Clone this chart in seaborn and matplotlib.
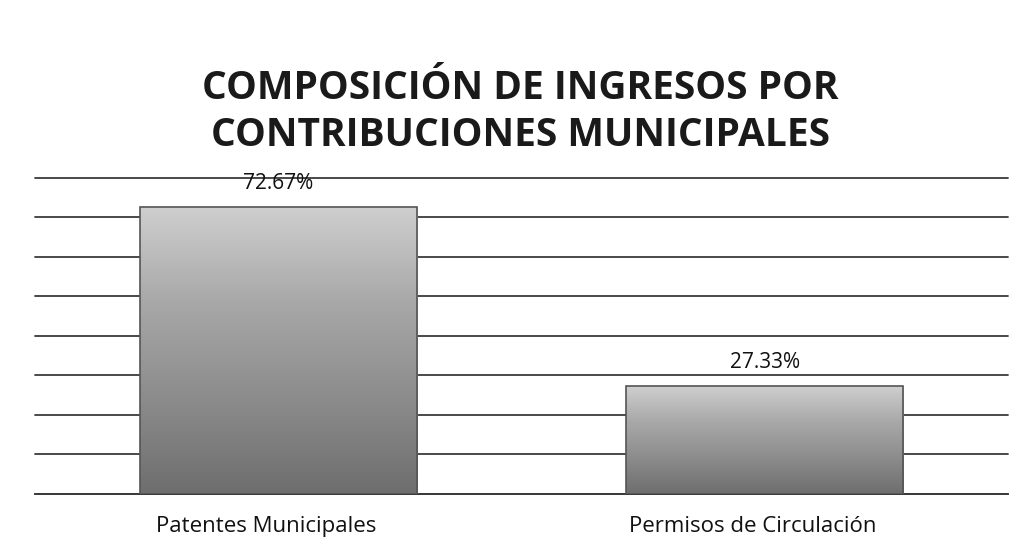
import matplotlib
matplotlib.use("Agg")
import matplotlib.pyplot as plt
import matplotlib.transforms as mtransforms
import seaborn as sns
import numpy as np
import pandas as pd

categories = ["Patentes Municipales", "Permisos de Circulación"]
values = [72.67, 27.33]
value_labels = ["72.67%", "27.33%"]
title = "COMPOSICIÓN DE INGRESOS POR\nCONTRIBUCIONES MUNICIPALES"

sns.set_theme(style="white")
plt.rcParams['font.family'] = ['Open Sans', 'DejaVu Sans']

fig = plt.figure(figsize=(10.28, 5.59), dpi=100)
ax = fig.add_axes([0.034, 0.1163, 0.9465, 0.5653])

df = pd.DataFrame({"cat": categories, "val": values})
sns.barplot(data=df, x="cat", y="val", ax=ax, width=0.57, color="#8a8a8a",
            edgecolor="#555555", linewidth=1.2, zorder=3)

ax.set_ylim(0, 80)
ax.set_xlim(-0.5, 1.5)
ax.set_yticks(np.arange(0, 81, 10))
ax.yaxis.grid(True, color="#3a3a3a", linewidth=1.3, zorder=0)
for gl in ax.yaxis.get_gridlines():
    gl.set_clip_on(False)
ax.set_axisbelow(True)
ax.tick_params(axis='y', left=False, labelleft=False)
ax.tick_params(axis='x', bottom=False, labelsize=16, colors="#111111", pad=10)
offset = mtransforms.ScaledTranslation(-12 / 100, 0, fig.dpi_scale_trans)
for lab in ax.get_xticklabels():
    lab.set_transform(lab.get_transform() + offset)
for s in ["top", "right", "left"]:
    ax.spines[s].set_visible(False)
ax.spines["bottom"].set_color("#3a3a3a")
ax.spines["bottom"].set_linewidth(1.3)
ax.set_xlabel("")
ax.set_ylabel("")

# gradient fill inside bars
grad = np.linspace(0, 1, 256).reshape(-1, 1)
cmap = matplotlib.colors.LinearSegmentedColormap.from_list(
    "g", ["#6e6e6e", "#8c8c8c", "#a8a8a8", "#cfcfcf"])
for p in ax.patches:
    x0, y0 = p.get_x(), p.get_y()
    w, h = p.get_width(), p.get_height()
    im = ax.imshow(grad, extent=[x0, x0 + w, y0, y0 + h], origin="lower",
                   aspect="auto", cmap=cmap, zorder=3.5)
    im.set_clip_path(p)
    p.set_facecolor("none")
    p.set_zorder(4)
ax.set_xlim(-0.5, 1.5)
ax.set_ylim(0, 80)

for i, (v, lab) in enumerate(zip(values, value_labels)):
    ax.text(i, v + 3.2, lab, ha="center", va="bottom", fontsize=15,
            color="#111111", zorder=5)

fig.text(0.506, 0.80, title, ha="center", va="center", fontsize=28,
         fontweight="bold", color="#1a1a1a", linespacing=1.25)

fig.savefig("out.png", dpi=100, facecolor="white")
